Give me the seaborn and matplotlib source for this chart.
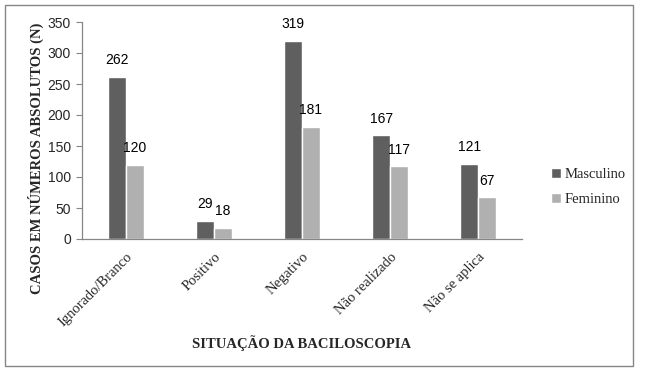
import matplotlib
matplotlib.use("Agg")
import matplotlib.pyplot as plt
import seaborn as sns
import pandas as pd
from matplotlib.patches import Rectangle

categories = ["Ignorado/Branco", "Positivo", "Negativo", "Não realizado", "Não se aplica"]
masculino = [262, 29, 319, 167, 121]
feminino = [120, 18, 181, 117, 67]
series = ["Masculino", "Feminino"]
yticks = [0, 50, 100, 150, 200, 250, 300, 350]

df = pd.DataFrame({
    "cat": categories * 2,
    "val": masculino + feminino,
    "sexo": [series[0]] * len(categories) + [series[1]] * len(categories),
})

sns.set_style("white")
plt.rcParams["font.family"] = ["Liberation Sans", "DejaVu Sans"]

fig = plt.figure(figsize=(6.45, 3.75), dpi=100)
ax = fig.add_axes([82 / 645, 1 - 239 / 375, (522 - 82) / 645, (239 - 22) / 375])

sns.barplot(data=df, x="cat", y="val", hue="sexo", hue_order=series,
            palette=["#5f5f5f", "#b0b0b0"], width=0.4, saturation=1,
            ax=ax, errorbar=None)

for cont in ax.containers:
    ax.bar_label(cont, padding=7, fontsize=10, color="#000000",
                 family=["Liberation Sans", "DejaVu Sans"])

ax.set_ylim(0, 350)
ax.set_yticks(yticks)
ax.set_xlim(-0.5, len(categories) - 0.5)
ax.set_xlabel("")
ax.set_ylabel("")
for lbl in ax.get_yticklabels():
    lbl.set_fontsize(10)
ax.tick_params(axis="y", length=4, color="#868686", width=0.8, direction="out", pad=4, left=True)
ax.tick_params(axis="x", length=0, pad=8)
ax.set_xticks(range(len(categories)))
ax.set_xticklabels(categories, rotation=45, ha="right", rotation_mode="anchor",
                   fontsize=10.5, family=["Liberation Serif", "DejaVu Serif"])

for s in ["top", "right"]:
    ax.spines[s].set_visible(False)
for s in ["left", "bottom"]:
    ax.spines[s].set_color("#868686")
    ax.spines[s].set_linewidth(0.9)

fig.text(36 / 645, 1 - 158 / 375, "CASOS EM NÚMEROS ABSOLUTOS (N)", rotation=90,
         ha="center", va="center", fontsize=10.5, fontweight="bold",
         family=["Liberation Serif", "DejaVu Serif"])
fig.text(302 / 645, 1 - 343 / 375, "SITUAÇÃO DA BACILOSCOPIA",
         ha="center", va="center", fontsize=10.5, fontweight="bold",
         family=["Liberation Serif", "DejaVu Serif"])

handles, labels = ax.get_legend_handles_labels()
ax.legend(handles, labels, loc="center left", bbox_to_anchor=(538 / 645, 1 - 187 / 375),
          bbox_transform=fig.transFigure, frameon=False, handlelength=0.7,
          handleheight=0.7, handletextpad=0.2, labelspacing=0.8,
          prop={"family": ["Liberation Serif", "DejaVu Serif"], "size": 10.5})

fig.patches.append(Rectangle((5 / 645, 1 - 366 / 375), (633 - 5) / 645, (366 - 5) / 375,
                             transform=fig.transFigure, fill=False,
                             edgecolor="#868686", linewidth=1.0))

fig.savefig("out.png", dpi=100)
